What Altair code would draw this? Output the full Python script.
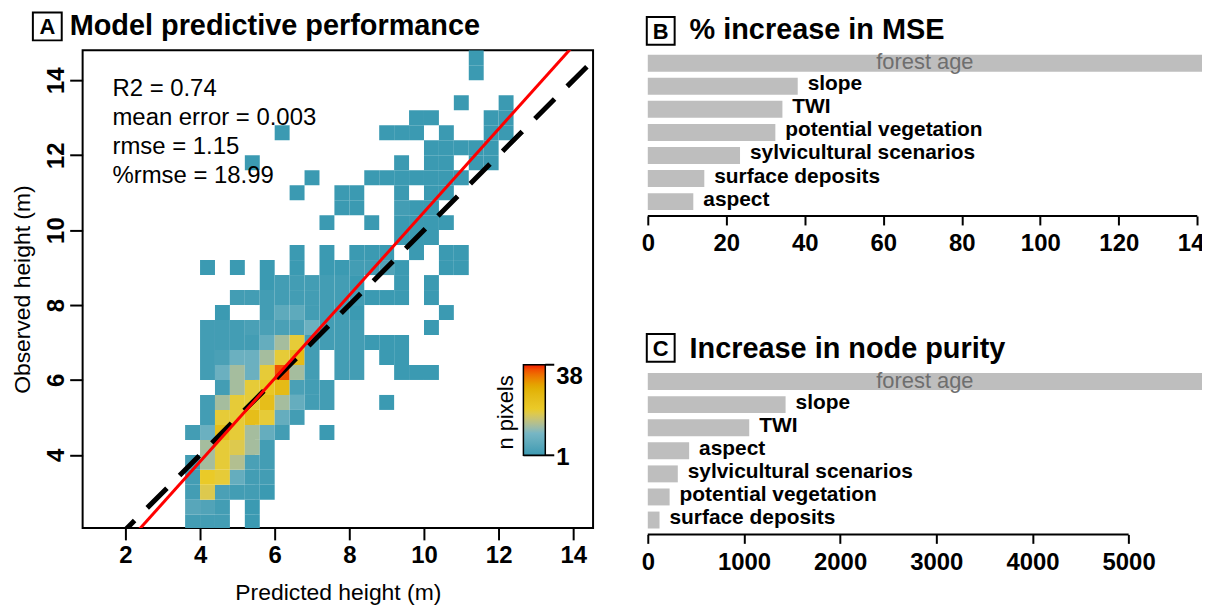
import altair as alt
import pandas as pd

FONT = "Liberation Sans"

# ---------------- Panel A : 2D histogram (0.4 m bins) ----------------
bin_size = 0.4
obs_bin_start = [2.0, 2.4, 2.8, 3.2, 3.6, 4.0, 4.4, 4.8, 5.2, 5.6, 6.0, 6.4, 6.8,
                 7.2, 7.6, 8.0, 8.4, 8.8, 9.2, 9.6, 10.0, 10.4, 10.8, 11.2, 11.6,
                 12.0, 12.4, 12.8, 13.2, 13.6, 14.0, 14.4]
# for every observed-height bin: (predicted-height bin start, n pixels)
pred_cells = [
    [(3.6, 2), (4.0, 2), (4.4, 2), (5.2, 1)],
    [(3.6, 5), (4.0, 4), (4.4, 2), (5.2, 1)],
    [(3.6, 2), (4.0, 18), (4.4, 3), (4.8, 2), (5.2, 2), (5.6, 1)],
    [(3.6, 2), (4.0, 20), (4.4, 19), (4.8, 7), (5.2, 2), (5.6, 2)],
    [(3.6, 2), (4.0, 13), (4.4, 19), (4.8, 14), (5.2, 3), (5.6, 2)],
    [(4.0, 13), (4.4, 19), (4.8, 18), (5.2, 13), (5.6, 2)],
    [(3.6, 2), (4.0, 8), (4.4, 24), (4.8, 19), (5.2, 13), (5.6, 7), (6.0, 2), (7.2, 1)],
    [(4.0, 2), (4.4, 19), (4.8, 19), (5.2, 24), (5.6, 19), (6.0, 7), (6.4, 2)],
    [(4.0, 2), (4.4, 13), (4.8, 19), (5.2, 19), (5.6, 24), (6.0, 13), (6.4, 7),
     (6.8, 2), (7.2, 2), (8.8, 1)],
    [(4.4, 2), (4.8, 13), (5.2, 19), (5.6, 21), (6.0, 25), (6.4, 3), (6.8, 2), (7.2, 2)],
    [(4.0, 2), (4.4, 8), (4.8, 13), (5.2, 8), (5.6, 19), (6.0, 36), (6.4, 13), (6.8, 2),
     (7.6, 2), (8.0, 2), (9.2, 1), (9.6, 1), (10.0, 1)],
    [(4.0, 2), (4.4, 3), (4.8, 8), (5.2, 8), (5.6, 13), (6.0, 19), (6.4, 25), (6.8, 2),
     (7.6, 2), (8.0, 2), (8.8, 1), (9.2, 1)],
    [(4.0, 2), (4.4, 2), (4.8, 2), (5.2, 2), (5.6, 7), (6.0, 13), (6.4, 19), (6.8, 2),
     (7.2, 2), (7.6, 2), (8.0, 2), (8.4, 1), (8.8, 1), (9.2, 1)],
    [(4.0, 2), (4.4, 2), (4.8, 2), (5.2, 3), (5.6, 3), (6.0, 3), (6.4, 3), (6.8, 8),
     (7.2, 2), (7.6, 2), (8.0, 2), (10.0, 1)],
    [(4.4, 1), (5.6, 2), (6.0, 6), (6.4, 6), (6.8, 2), (7.2, 2), (7.6, 2), (8.0, 1), (10.4, 1)],
    [(4.8, 2), (5.2, 2), (5.6, 2), (6.0, 2), (6.4, 2), (6.8, 2), (7.2, 2), (7.6, 2),
     (8.0, 2), (8.4, 1), (8.8, 1), (9.2, 1), (10.0, 1)],
    [(5.6, 1), (6.0, 2), (6.4, 2), (6.8, 2), (7.2, 2), (7.6, 2), (8.0, 1), (9.2, 1), (10.0, 1)],
    [(4.0, 1), (4.8, 1), (5.6, 1), (6.4, 1), (7.2, 1), (7.6, 1), (8.0, 2), (8.4, 2),
     (8.8, 4), (9.2, 1), (10.4, 1), (10.8, 1)],
    [(6.4, 1), (7.2, 1), (8.0, 1), (8.4, 1), (8.8, 1), (9.6, 1), (10.4, 1), (10.8, 1)],
    [(9.2, 1), (9.6, 1), (10.0, 1)],
    [(7.2, 1), (8.4, 1), (9.2, 1), (9.6, 1), (10.0, 1), (10.4, 1)],
    [(7.6, 1), (8.0, 1), (9.2, 2), (9.6, 1), (10.0, 1)],
    [(6.4, 1), (7.6, 1), (8.0, 1), (9.2, 1), (10.0, 1), (10.4, 1)],
    [(6.8, 1), (8.4, 1), (8.8, 1), (9.2, 1), (9.6, 1), (10.0, 1), (10.4, 1), (10.8, 1)],
    [(5.2, 1), (9.2, 1), (10.0, 1), (10.4, 1), (11.2, 1), (11.6, 1)],
    [(10.0, 1), (10.4, 1), (10.8, 1), (11.2, 1), (11.6, 1)],
    [(6.0, 1), (8.8, 1), (9.2, 1), (9.6, 1), (10.4, 1), (11.6, 1), (12.0, 1)],
    [(9.6, 1), (10.0, 1), (11.6, 1), (12.0, 1)],
    [(10.8, 1), (12.0, 1)],
    [],
    [(11.2, 1)],
    [(11.2, 1)],
]

stats_lines = ["R2 = 0.74", "mean error = 0.003", "rmse = 1.15", "%rmse = 18.99"]
fit_intercept = -0.62
fit_slope = 1.11
x_domain_A = [0.854, 14.53]
y_domain_A = [2.05, 14.8]
x_ticks_A = [2, 4, 6, 8, 10, 12, 14]
y_ticks_A = [4, 6, 8, 10, 12, 14]
zissou = ["#3B9AB2", "#78B7C5", "#EBCC2A", "#E1AF00", "#F21A00"]
count_range = [1, 38]

# ---------------- Panels B and C ----------------
mse_vars = ["forest age", "slope", "TWI", "potential vegetation",
            "sylvicultural scenarios", "surface deposits", "aspect"]
mse_vals = [141.2, 38.2, 34.3, 32.5, 23.5, 14.4, 11.6]
mse_ticks = [0, 20, 40, 60, 80, 100, 120, 140]

purity_vars = ["forest age", "slope", "TWI", "aspect",
               "sylvicultural scenarios", "potential vegetation", "surface deposits"]
purity_vals = [5763, 1433, 1055, 430, 312, 227, 122]
purity_ticks = [0, 1000, 2000, 3000, 4000, 5000]

# ---------------- build tables ----------------
heat_rows = []
for y0, cells in zip(obs_bin_start, pred_cells):
    for x0, n in cells:
        heat_rows.append({"x0": x0, "x1": round(x0 + bin_size, 2),
                          "y0": y0, "y1": round(y0 + bin_size, 2), "n": n})
df_heat = pd.DataFrame(heat_rows)

df_lines = pd.DataFrame({
    "px": x_domain_A,
    "one": x_domain_A,
    "fit": [fit_intercept + fit_slope * v for v in x_domain_A],
})

df_deco_A = pd.DataFrame({
    "letter": ["A"],
    "title": ["Model predictive performance"],
    "stats": ["\n".join(stats_lines)],
    "legend_title": ["n pixels"],
    "lo": [str(count_range[0])],
    "hi": [str(count_range[1])],
})

X_TITLE_A = "Predicted height (m)"
Y_TITLE_A = "Observed height (m)"
xs_A = alt.Scale(domain=x_domain_A, nice=False, zero=False)
ys_A = alt.Scale(domain=y_domain_A, nice=False, zero=False)

x_axis_A = alt.Axis(values=x_ticks_A, domain=False, grid=False,
                    tickSize=12, tickWidth=2, tickColor="black", labelFlush=False,
                    labelFont=FONT, labelFontSize=24, labelFontWeight="bold",
                    labelColor="black", labelPadding=4,
                    titleFont=FONT, titleFontSize=23, titleFontWeight="normal",
                    titleColor="black", titlePadding=14)
y_axis_A = alt.Axis(values=y_ticks_A, domain=False, grid=False,
                    tickSize=13, tickWidth=2, tickColor="black", labelFlush=False,
                    labelAngle=270, labelAlign="center", labelBaseline="alphabetic",
                    labelFont=FONT, labelFontSize=24, labelFontWeight="bold",
                    labelColor="black", labelPadding=6,
                    titleFont=FONT, titleFontSize=23, titleFontWeight="normal",
                    titleColor="black", titlePadding=10)

legend_A = alt.Legend(orient="none", legendX=443, legendY=316, direction="vertical",
                      title=None, values=count_range, gradientLength=91,
                      gradientThickness=22, gradientStrokeColor="black",
                      gradientStrokeWidth=1.5, labelOpacity=0)

heat = alt.Chart(df_heat).mark_rect(clip=True).encode(
    x=alt.X("x0:Q", scale=xs_A, axis=x_axis_A, title=X_TITLE_A),
    x2="x1:Q",
    y=alt.Y("y0:Q", scale=ys_A, axis=y_axis_A, title=Y_TITLE_A),
    y2="y1:Q",
    color=alt.Color("n:Q", scale=alt.Scale(domain=count_range, range=zissou,
                                           interpolate="lab"),
                    legend=legend_A),
)

dashed = alt.Chart(df_lines).mark_line(color="black", strokeWidth=5, strokeDash=[28, 18],
                                       clip=True).encode(
    x=alt.X("px:Q", scale=xs_A, title=X_TITLE_A),
    y=alt.Y("one:Q", scale=ys_A, title=Y_TITLE_A),
)
red = alt.Chart(df_lines).mark_line(color="#FF0000", strokeWidth=3, clip=True).encode(
    x=alt.X("px:Q", scale=xs_A, title=X_TITLE_A),
    y=alt.Y("fit:Q", scale=ys_A, title=Y_TITLE_A),
)

stats = alt.Chart(df_deco_A).mark_text(align="left", baseline="alphabetic", font=FONT,
                                       fontSize=24, lineBreak="\n", lineHeight=29,
                                       color="black").encode(
    x=alt.value(30), y=alt.value(46), text="stats:N")

npix = alt.Chart(df_deco_A).mark_text(angle=270, align="center", baseline="middle",
                                      font=FONT, fontSize=22, color="black").encode(
    x=alt.value(426), y=alt.value(364), text="legend_title:N")

# colour-bar labels and their small ticks (38 at the top, 1 at the bottom)
lbl_hi = alt.Chart(df_deco_A).mark_text(align="left", baseline="top", font=FONT,
                                        fontSize=24, fontWeight="bold", color="black").encode(
    x=alt.value(476), y=alt.value(316), text="hi:N")
lbl_lo = alt.Chart(df_deco_A).mark_text(align="left", baseline="middle", font=FONT,
                                        fontSize=24, fontWeight="bold", color="black").encode(
    x=alt.value(476), y=alt.value(410), text="lo:N")
tick_top = alt.Chart(df_deco_A).mark_rule(color="black", strokeWidth=2).encode(
    x=alt.value(465), x2=alt.value(474), y=alt.value(316))
tick_bottom = alt.Chart(df_deco_A).mark_rule(color="black", strokeWidth=2).encode(
    x=alt.value(443), x2=alt.value(474), y=alt.value(407))


def spacer(df, y):
    """transparent 1px mark fixing a panel's outer extent for the layout"""
    return alt.Chart(df).mark_rect(opacity=0).encode(
        x=alt.value(0), x2=alt.value(1), y=alt.value(y), y2=alt.value(y + 1))


def panel_title(df, box_x, box_y, title_x, title_y, size):
    box = alt.Chart(df).mark_rect(fillOpacity=0, stroke="black", strokeWidth=2).encode(
        x=alt.value(box_x[0]), x2=alt.value(box_x[1]),
        y=alt.value(box_y[0]), y2=alt.value(box_y[1]))
    letter = alt.Chart(df).mark_text(align="center", baseline="middle", font=FONT,
                                     fontSize=22, fontWeight="bold", color="black").encode(
        x=alt.value((box_x[0] + box_x[1]) / 2), y=alt.value((box_y[0] + box_y[1]) / 2 + 1),
        text="letter:N")
    ttl = alt.Chart(df).mark_text(align="left", baseline="alphabetic", font=FONT,
                                  fontSize=size, fontWeight="bold", color="black").encode(
        x=alt.value(title_x), y=alt.value(title_y), text="title:N")
    return [box, letter, ttl]


panel_A = alt.layer(
    heat, dashed, red, stats, npix, lbl_hi, lbl_lo, tick_top, tick_bottom,
    spacer(df_deco_A, -43), spacer(df_deco_A, 554),
    *panel_title(df_deco_A, (-50, -21), (-38, -10), -13, -15, 29),
).properties(width=513, height=480,
             view=alt.ViewBackground(stroke="black", strokeWidth=2))


def bar_panel(names, values, x_max, ticks, letter, title, box_y, title_y, top_y, bottom_y):
    W, H = 557, 165
    df = pd.DataFrame({"variable": names, "value": values})
    df["mid"] = df["value"] / 2
    top = names[0]
    xs = alt.Scale(domain=[0, x_max], nice=False, zero=True)
    ys = alt.Scale(paddingInner=0.266, paddingOuter=0.19)
    yenc = alt.Y("variable:N", sort=names, scale=ys, axis=None)
    base = alt.Chart(df)
    bars = base.mark_bar(color="#BEBEBE").encode(
        x=alt.X("value:Q", scale=xs, title=None,
                axis=alt.Axis(values=ticks, format="d", domain=False, grid=False, offset=1.5,
                              tickSize=9, tickWidth=2, tickColor="black", labelFlush=False,
                              labelFont=FONT, labelFontSize=24, labelFontWeight="bold",
                              labelColor="black", labelPadding=7)),
        y=yenc,
    )
    inner = base.transform_filter(alt.datum.variable == top).mark_text(
        align="center", baseline="middle", font=FONT, fontSize=22, color="#6E6E6E", dy=-1
    ).encode(x=alt.X("mid:Q", scale=xs, title=None), y=yenc, text="variable:N")
    outer = base.transform_filter(alt.datum.variable != top).mark_text(
        align="left", baseline="middle", font=FONT, fontSize=21, fontWeight="bold",
        color="black", dx=10, dy=-2
    ).encode(x=alt.X("value:Q", scale=xs, title=None), y=yenc, text="variable:N")
    axis_line = alt.Chart(pd.DataFrame({"a0": [ticks[0]], "a1": [ticks[-1]]})).mark_rule(
        color="black", strokeWidth=2).encode(
        x=alt.X("a0:Q", scale=xs, title=None), x2="a1:Q", y=alt.value(H + 1.5))
    deco = pd.DataFrame({"letter": [letter], "title": [title]})
    return alt.layer(
        bars, inner, outer, axis_line, spacer(deco, top_y), spacer(deco, bottom_y),
        *panel_title(deco, (-1, 27), box_y, 42, title_y, 29),
    ).properties(width=W, height=H, view=alt.ViewBackground(strokeWidth=0))


panel_B = bar_panel(mse_vars, mse_vals, 141.2, mse_ticks, "B", "% increase in MSE",
                    (-33.5, -5.5), -11.5, -38.5, 214)
panel_C = bar_panel(purity_vars, purity_vals, 5763, purity_ticks, "C",
                    "Increase in node purity", (-35, -7), -11, -40, 247.5)

right = alt.vconcat(panel_B, panel_C, spacing=65)
chart = alt.hconcat(panel_A, right, spacing=47, center=False).properties(
    padding={"left": 3, "top": -3, "right": -16, "bottom": 0}
).configure_view(strokeWidth=0).configure(font=FONT)

chart.save("out.html", embed_options={"renderer": "svg", "actions": False})
